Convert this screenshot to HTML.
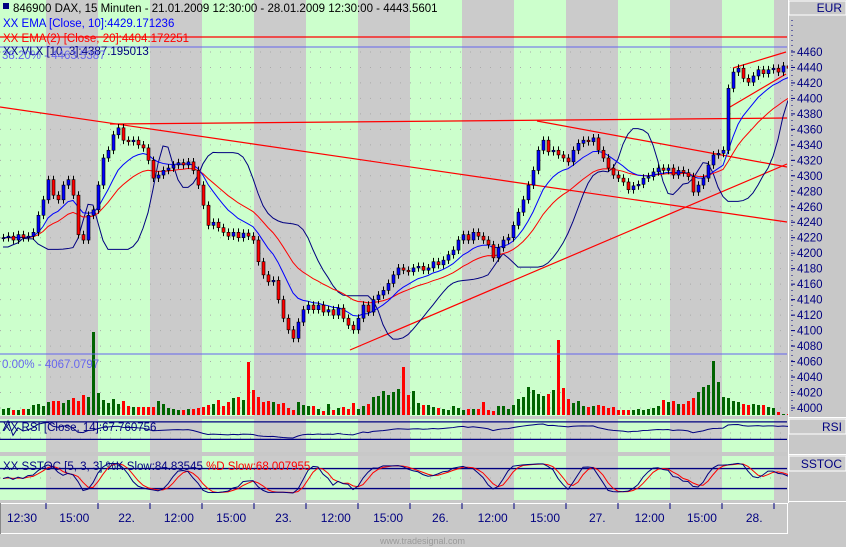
<!DOCTYPE html>
<html><head><meta charset="utf-8"><style>
html,body{margin:0;padding:0;background:#c8c8c8;}
svg{display:block;font-family:"Liberation Sans",sans-serif;}
</style></head><body>
<svg id="c" width="846" height="547" viewBox="0 0 846 547"></svg>
<script>
const closes=[4220,4222,4217,4224,4220,4222,4227,4249,4269,4295,4275,4269,4288,4295,4275,4224,4217,4249,4256,4288,
4323,4333,4353,4362,4346,4344,4346,4340,4336,4320,4297,4301,4307,4310,4314,4317,4314,4318,4307,4288,
4262,4236,4240,4233,4227,4222,4227,4220,4226,4222,4217,4189,4172,4163,4165,4140,4116,4101,4090,4111,
4127,4133,4127,4133,4124,4127,4120,4129,4116,4107,4101,4116,4133,4124,4140,4146,4152,4161,4172,4181,
4178,4176,4181,4183,4178,4181,4189,4185,4191,4198,4204,4217,4224,4217,4227,4222,4217,4211,4194,4207,
4217,4220,4236,4253,4269,4288,4307,4333,4346,4331,4333,4327,4323,4318,4333,4342,4346,4344,4349,4333,
4323,4310,4301,4297,4292,4282,4287,4289,4297,4299,4305,4310,4307,4310,4301,4307,4304,4299,4279,4288,
4297,4314,4327,4329,4333,4413,4434,4439,4426,4421,4429,4437,4432,4437,4439,4434,4442,4439];
const volumes=[6,7,5,5,6,6,10,11,9,13,14,14,12,15,17,14,20,18,83,22,15,12,16,11,14,9,8,8,8,8,
8,14,11,7,6,5,5,6,6,7,8,10,11,15,9,13,17,18,15,53,25,18,13,14,13,11,12,7,5,13,
10,9,9,6,4,11,5,7,8,6,12,6,9,11,18,19,24,20,23,26,48,20,24,12,10,10,8,7,6,5,
9,7,5,6,6,6,13,5,4,9,9,6,10,16,18,28,25,21,19,21,25,75,27,16,12,14,9,8,9,10,
9,7,8,5,5,5,5,6,5,6,7,9,15,13,14,11,11,14,17,23,28,30,54,33,18,17,14,13,11,10,
11,10,10,8,7,3,1,1];
const priceTicks=[4000,4020,4040,4060,4080,4100,4120,4140,4160,4180,4200,4220,4240,4260,4280,4300,4320,4340,4360,4380,4400,4420,4440,4460];
const timeLabels=["12:30","15:00","22.","12:00","15:00","23.","12:00","15:00","26.","12:00","15:00","27.","12:00","15:00","28."];

const S=document.getElementById('c');const NS='http://www.w3.org/2000/svg';
function el(t,a,p){const e=document.createElementNS(NS,t);for(const k in a)e.setAttribute(k,a[k]);(p||S).appendChild(e);return e;}
const PR=787;
const y=v=>408-(v-4000)*0.774;
const x=i=>3+i*5;
const rsiY=v=>452.5-v*0.4375;
const stY=v=>495.2-v*0.333;

for(let i=0;i<16;i++){const x0=-6+i*52;
 const r=el('rect',{x:Math.max(0,x0),y:0,width:Math.min(52,PR-Math.max(0,x0)),height:503,fill:i%2==0?'#ccffcc':'#cbcbcb'});
 }
[[416,419],[452,456],[500,503]].forEach(a=>el('rect',{x:0,y:a[0],width:PR,height:a[1]-a[0],fill:'#c8c8c8'}));
priceTicks.forEach(v=>el('line',{x1:0,x2:PR,y1:y(v),y2:y(v),stroke:'#aaa','stroke-dasharray':'1,9'}));
[433,438,478].forEach(v=>el('line',{x1:0,x2:PR,y1:v,y2:v,stroke:'#aaa','stroke-dasharray':'1,9'}));

closes.forEach((c,i)=>{const o=i?closes[i-1]:c;const h=volumes[i];
 const b=el('rect',{x:x(i)-1,y:415-h,width:3,height:h,fill:c>=o?'#006400':'#ff0000'});
 });

el('line',{x1:0,x2:PR,y1:37,y2:37,stroke:'#ff0000','stroke-width':1.3});
el('line',{x1:0,x2:PR,y1:47,y2:47,stroke:'#6666ee'});
el('line',{x1:0,x2:PR,y1:354,y2:354,stroke:'#6666ee'});
[[0,107,787,222],[110,124,787,118],[537,121,787,167],[350,350,787,164],[733,68,786,52],[730,107,786,74]].forEach(l=>{
 const t=el('line',{x1:l[0],y1:l[1],x2:l[2],y2:l[3],stroke:'#ff0000','stroke-width':1.2});
 });

function ema(n){const k=2/(n+1);let e=closes[0];return closes.map(c=>e=e+(c-e)*k);}
const e10=ema(10),e20=ema(20);
const sm=a=>a.map((v,i)=>{const w=a.slice(Math.max(0,i-2),i+1);return w.reduce((s,q)=>s+q,0)/w.length;});
const vraw=closes.map((c,i)=>{const w=closes.slice(Math.max(0,i-9),i+1);return c>=e20[i]?Math.min(...w)-12:Math.max(...w)+12;});
const vlx=sm(sm(vraw));
function poly(arr,fy,col,name){const p=el('polyline',{points:arr.map((v,i)=>x(i)+','+fy(v)).join(' '),fill:'none',stroke:col,'stroke-width':1});
 }
poly(vlx,y,'#000080','vlx-line');poly(e20,y,'#ff0000','ema20-line');poly(e10,y,'#0000ff','ema10-line');

closes.forEach((c,i)=>{const o=i?closes[i-1]:c;const hi=Math.max(o,c)+5,lo=Math.min(o,c)-5;
 el('line',{x1:x(i)+.5,x2:x(i)+.5,y1:y(hi),y2:y(lo),stroke:'#000'});
 const t=Math.min(y(o),y(c)),h=Math.max(1,Math.abs(y(o)-y(c)));
 const b=el('rect',{x:x(i)-1,y:t,width:3,height:h,fill:c>=o?'#0000ff':'#ff0000',stroke:'#000','stroke-width':.6});
 });

const rsi=[];{let ag=0,al=0;closes.forEach((c,i)=>{if(!i){rsi.push(50);return;}const d=c-closes[i-1];
 ag=(ag*13+Math.max(d,0))/14;al=(al*13+Math.max(-d,0))/14;rsi.push(al+ag?100*ag/(ag+al):50);});}
[70,30].forEach(v=>el('line',{x1:0,x2:PR,y1:rsiY(v),y2:rsiY(v),stroke:'#000080','stroke-width':1.3}));
poly(rsi,v=>Math.max(420,Math.min(451,rsiY(v*0.45+27))),'#000080','rsi-line');
const rawK=closes.map((c,i)=>{const w=closes.slice(Math.max(0,i-4),i+1);const hi=Math.max(...w)+5,lo=Math.min(...w)-5;return 100*(c-lo)/(hi-lo);});
const kS=sm(rawK),dS=sm(kS);
[80,20].forEach(v=>el('line',{x1:0,x2:PR,y1:stY(v),y2:stY(v),stroke:'#000080','stroke-width':1.3}));
poly(dS,stY,'#ff0000','stoch-d-line');poly(kS,stY,'#000080','stoch-k-line');

function tx(s,a,name){const t=el('text',a);t.textContent=s;return t;}
el('rect',{x:3,y:3,width:6,height:6,fill:'#000080'});
tx('846900  DAX, 15 Minuten - 21.01.2009 12:30:00 - 28.01.2009 12:30:00 - 4443.5601',{x:13,y:12,'font-size':11.5,fill:'#000'},'chart-title');
tx('XX EMA [Close, 10]:4429.171236',{x:3,y:27,'font-size':11.5,fill:'#0000ff'},'ema10-legend');
tx('XX EMA(2) [Close, 20]:4404.172251',{x:3,y:42,'font-size':11.5,fill:'#ff0000'},'ema20-legend');
tx('XX VLX [10, 3]:4387.195013',{x:3,y:55,'font-size':11.5,fill:'#000080'},'vlx-legend');
tx('38.20% - 4463.5387',{x:2,y:59,'font-size':11.5,fill:'#6666ee'},'fib-382-label');
tx('0.00% - 4067.0797',{x:2,y:368,'font-size':11.5,fill:'#6666ee'},'fib-0-label');
tx('XX RSI [Close, 14]:67.760756',{x:3,y:431,'font-size':11.5,fill:'#000080'},'rsi-legend');
const st=tx('XX SSTOC [5, 3, 3] %K Slow:84.83545 ',{x:3,y:470,'font-size':11.5,fill:'#000080'},'stoch-legend');
const sp=el('tspan',{fill:'#ff0000'},st);sp.textContent='%D Slow:68.007955';

el('rect',{x:788,y:0,width:58,height:547,fill:'#c8c8c8'});
el('line',{x1:788.5,x2:788.5,y1:0,y2:503,stroke:'#fff'});
el('rect',{x:789,y:1,width:57,height:14,fill:'#c8c8c8',stroke:'#fff'});
tx('EUR',{x:842,y:12,'font-size':12,fill:'#000080','text-anchor':'end'},'currency-label');
el('line',{x1:792,x2:792,y1:20,y2:414,stroke:'#000080','stroke-dasharray':'1,4'});
priceTicks.forEach(v=>{el('line',{x1:791,x2:795,y1:y(v),y2:y(v),stroke:'#000080'});
 tx(String(v),{x:797,y:y(v)+4,'font-size':11.5,fill:'#000080'},'price-tick');});
el('line',{x1:788,x2:846,y1:417.5,y2:417.5,stroke:'#fff'});
el('rect',{x:789,y:419,width:57,height:15,fill:'#c8c8c8',stroke:'#fff'});
tx('RSI',{x:842,y:431,'font-size':12,fill:'#000080','text-anchor':'end'},'rsi-axis-label');
el('line',{x1:788,x2:846,y1:454.5,y2:454.5,stroke:'#fff'});
el('rect',{x:789,y:456,width:57,height:15,fill:'#c8c8c8',stroke:'#fff'});
tx('SSTOC',{x:842,y:468,'font-size':12,fill:'#000080','text-anchor':'end'},'stoch-axis-label');
el('line',{x1:788,x2:846,y1:501.5,y2:501.5,stroke:'#fff'});

el('rect',{x:0.5,y:503.5,width:787,height:30,fill:'#c8c8c8',stroke:'#fff'});
el('line',{x1:0.5,x2:0.5,y1:503,y2:534,stroke:'#888'});
for(let i=1;i<16;i++){const tx0=-6+i*52;el('line',{x1:tx0,x2:tx0,y1:503,y2:509,stroke:'#000080'});}
timeLabels.forEach((s,i)=>tx(s,{x:22+i*52.3,y:522,'font-size':12,fill:'#000080','text-anchor':'middle'},'time-label'));
tx('www.tradesignal.com',{x:380,y:544,'font-size':9,fill:'#999'},'watermark');
</script>
</body></html>
